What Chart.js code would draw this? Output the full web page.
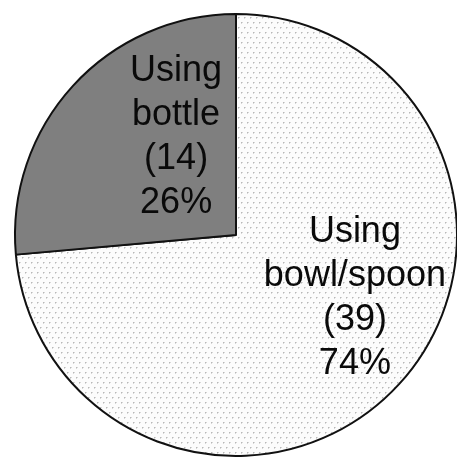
<!DOCTYPE html>
<html>
<head>
<meta charset="utf-8">
<script src="https://cdn.jsdelivr.net/npm/chart.js@4.4.0/dist/chart.umd.min.js"></script>
<style>
  html, body { margin: 0; padding: 0; background: #ffffff; overflow: hidden; }
  #wrap { position: absolute; left: 0; top: 0; width: 470px; height: 470px; }
</style>
</head>
<body>
<div id="wrap"><canvas id="c" width="470" height="470"></canvas></div>
<script>
// ---- data ----
const categories = ["Using bowl/spoon", "Using bottle"];
const counts = [39, 14];
const percentLabels = ["74%", "26%"];
const labelLines = [["Using", "bowl/spoon"], ["Using", "bottle"]];

// ---- styles ----
function makeDotPattern() {
  const t = document.createElement('canvas');
  t.width = 6; t.height = 10;
  const g = t.getContext('2d');
  g.fillStyle = '#fcfcfc';
  g.fillRect(0, 0, 6, 10);
  g.fillStyle = '#b8b8b8';
  g.fillRect(1, 2, 1, 1);
  g.fillRect(4, 7, 1, 1);
  g.fillStyle = '#d8d8d8';
  g.fillRect(2, 2, 1, 1); g.fillRect(1, 3, 1, 1);
  g.fillRect(5, 7, 1, 1); g.fillRect(4, 8, 1, 1);
  return document.getElementById('c').getContext('2d').createPattern(t, 'repeat');
}
const sliceColors = [makeDotPattern(), '#7f7f7f'];
// label anchor offsets as fraction of radius (dx, dy) from centre
const labelOffsets = [[0.538, 0.285], [-0.271, -0.443]];

const labelPlugin = {
  id: 'sliceLabels',
  afterDatasetsDraw(chart) {
    const meta = chart.getDatasetMeta(0);
    const ctx = chart.ctx;
    ctx.save();
    ctx.font = '36px "Liberation Sans", Arial, sans-serif';
    ctx.fillStyle = '#0a0a0a';
    ctx.textAlign = 'center';
    ctx.textBaseline = 'middle';
    const lh = 44;
    meta.data.forEach((arc, i) => {
      const r = arc.outerRadius;
      const cx = arc.x + labelOffsets[i][0] * r;
      const cy = arc.y + labelOffsets[i][1] * r;
      const lines = labelLines[i].concat(['(' + counts[i] + ')', percentLabels[i]]);
      const y0 = cy - (lines.length - 1) * lh / 2;
      lines.forEach((s, k) => ctx.fillText(s, cx, y0 + k * lh));
    });
    ctx.restore();
  }
};

new Chart(document.getElementById('c'), {
  type: 'pie',
  data: {
    labels: categories,
    datasets: [{
      data: counts,
      backgroundColor: sliceColors,
      borderColor: '#111111',
      borderWidth: 2
    }]
  },
  options: {
    responsive: false,
    animation: false,
    layout: { padding: { left: 14, top: 13, right: 12, bottom: 13 } },
    plugins: { legend: { display: false }, tooltip: { enabled: false } }
  },
  plugins: [labelPlugin]
});
</script>
</body>
</html>
